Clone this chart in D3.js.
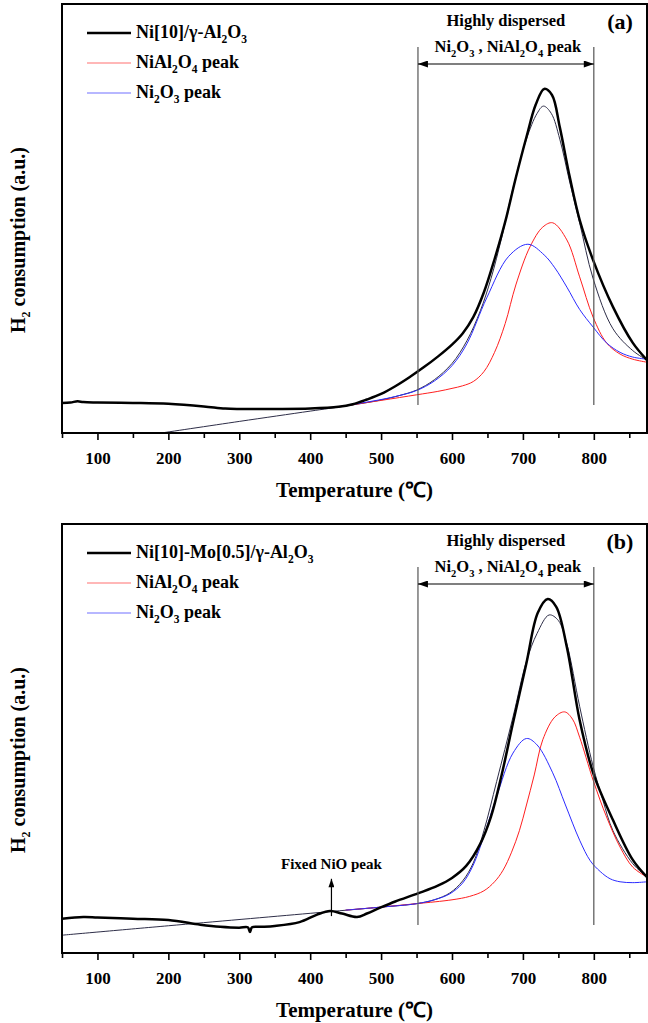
<!DOCTYPE html>
<html>
<head>
<meta charset="utf-8">
<script src="https://cdn.jsdelivr.net/npm/d3@7"></script>
<style>
  body { margin: 0; background: #fff; }
  svg text { font-family: "Liberation Serif", "Times New Roman", serif; font-weight: bold; fill: #000; }
</style>
</head>
<body>
<div id="chart"></div>
<script>
// [temperature °C, H2 consumption a.u.]
const expA = [[50,7.0],[62,7.1],[72,7.4],[80,7.2],[100,7.1],[150,7.0],[200,6.8],[250,6.2],[280,5.7],[300,5.6],[350,5.6],[400,5.7],[440,6.1],[460,6.7],[480,7.8],[500,9.1],[520,10.9],[540,13.0],[560,15.3],[580,17.8],[600,20.6],[615,23.2],[630,27.0],[645,32.8],[660,40.5],[675,49.2],[690,59.5],[705,69.0],[718,76.5],[730,80.2],[741,78.8],[752,71.3],[766,59.7],[780,49.7],[799,40.3],[827,29.4],[855,21.0],[875,17.0]];
const fitA = [[190,0],[300,2.7],[400,5.1],[450,6.3],[500,7.7],[525,8.7],[550,10.0],[575,12.4],[600,16.2],[621,21.5],[640,28.5],[655,36],[670,45.5],[686,57],[705,68.5],[720,74.5],[729,76.2],[740,74.5],[752,68.5],[766,58.5],[780,49],[799,36],[827,24.3],[855,19.2],[875,17.0]];
const redA = [[440,6.1],[500,7.6],[550,8.9],[580,9.7],[600,10.4],[615,11.0],[630,12.0],[645,14.3],[660,18.8],[675,25.5],[690,34.5],[710,43.4],[728,48.0],[742,49.0],[762,45.0],[780,36.4],[799,27.0],[818,21.0],[837,18.4],[855,17.2],[875,16.5]];
const blueA = [[440,6.1],[500,7.8],[525,8.7],[550,9.9],[575,12.1],[600,15.7],[621,20.8],[649,31.5],[680,41.2],[707,44.0],[730,41.5],[745,38.5],[762,34.0],[780,28.8],[799,24.7],[818,21.0],[837,18.8],[855,17.7],[875,17.2]];

const expB = [[50,8.0],[80,8.4],[100,8.3],[150,8.0],[200,7.7],[245,6.6],[273,6.1],[300,5.9],[312,6.0],[315,4.9],[318,6.0],[330,6.1],[350,6.3],[385,7.2],[409,8.9],[428,9.8],[445,9.2],[466,8.4],[480,9.2],[498,10.5],[520,12.0],[552,13.9],[580,15.7],[600,17.5],[620,20.3],[640,25.5],[655,31.8],[670,41.5],[686,53.6],[705,67.6],[721,79.3],[735,82.5],[747,80.7],[762,71.3],[780,54.3],[799,42.0],[827,31.0],[855,21.7],[875,17.7]];
const fitB = [[50,4.15],[200,6.35],[400,9.25],[500,10.7],[550,11.5],[575,12.4],[597,14.0],[615,16.8],[630,21.0],[645,28.5],[663,40],[686,55],[705,68],[720,74.5],[737,78.8],[750,77.5],[762,72],[780,57.5],[799,43.5],[813,35.5],[827,28.5],[855,20.8],[875,17.7]];
const redB = [[450,10.0],[500,10.7],[550,11.5],[600,12.4],[625,13.2],[645,14.5],[660,16.6],[672,19.3],[684,23.5],[695,28.5],[705,34.5],[716,41.5],[728,49.7],[745,55],[759,56.2],[770,54.5],[780,50.3],[799,40.3],[818,31.7],[837,24.7],[855,20],[875,17.7]];
const blueB = [[450,10.0],[500,10.7],[550,11.5],[575,12.4],[597,13.8],[615,16.3],[630,20.5],[645,27.3],[663,36.5],[686,46.6],[705,50.0],[720,48.5],[742,42.0],[760,34.5],[780,26.3],[795,21.5],[809,19.0],[823,17.3],[837,16.6],[855,16.4],[875,16.6]];

const majorTicks = [100, 200, 300, 400, 500, 600, 700, 800];
const minorTicks = [50, 150, 250, 350, 450, 550, 650, 750, 850];
const bracketRange = [552, 800];
const fixedNiO = 430;

// text pieces: [text, subscript?]
const nameA = [["Ni[10]/γ-Al", 0], ["2", 1], ["O", 0], ["3", 1]];
const nameB = [["Ni[10]-Mo[0.5]/γ-Al", 0], ["2", 1], ["O", 0], ["3", 1]];
const nameRed = [["NiAl", 0], ["2", 1], ["O", 0], ["4", 1], [" peak", 0]];
const nameBlue = [["Ni", 0], ["2", 1], ["O", 0], ["3", 1], [" peak", 0]];
const bracketText = [["Ni", 0], ["2", 1], ["O", 0], ["3", 1], [" , NiAl", 0], ["2", 1], ["O", 0], ["4", 1], [" peak", 0]];
const yTitle = [["H", 0], ["2", 1], [" consumption (a.u.)", 0]];

const width = 648, height = 1023;
const plotH = 429;

const svg = d3.select("#chart").append("svg")
  .attr("width", width)
  .attr("height", height);

const defs = svg.append("defs");
defs.append("marker")
  .attr("id", "arr")
  .attr("viewBox", "0 0 10 7")
  .attr("refX", 10).attr("refY", 3.5)
  .attr("markerWidth", 11).attr("markerHeight", 7)
  .attr("markerUnits", "userSpaceOnUse")
  .attr("orient", "auto-start-reverse")
  .append("path").attr("d", "M0,0L10,3.5L0,7Z").attr("fill", "#000");
defs.append("marker")
  .attr("id", "arrUp")
  .attr("viewBox", "0 0 10 7")
  .attr("refX", 10).attr("refY", 3.5)
  .attr("markerWidth", 9).attr("markerHeight", 6)
  .attr("markerUnits", "userSpaceOnUse")
  .attr("orient", "auto")
  .append("path").attr("d", "M0,0L10,3.5L0,7Z").attr("fill", "#000");

const x = d3.scaleLinear().domain([50, 875]).range([62, 647]);

function rich(sel, parts, subSize) {
  let shifted = false;
  parts.forEach(([t, sub]) => {
    const ts = sel.append("tspan").text(t);
    if (sub) {
      ts.attr("font-size", subSize).attr("dy", shifted ? 0 : 5);
      shifted = true;
    } else if (shifted) {
      ts.attr("dy", -5);
      shifted = false;
    }
  });
  return sel;
}

const panels = [
  { id: "a", top: 4, exp: expA, fit: fitA, red: redA, blue: blueA, name: nameA, tag: "(a)" },
  { id: "b", top: 524, exp: expB, fit: fitB, red: redB, blue: blueB, name: nameB, tag: "(b)" }
];

panels.forEach((p) => {
  const bottom = p.top + plotH;
  const y = d3.scaleLinear().domain([0, 100]).range([bottom, p.top]);
  const g = svg.append("g").attr("id", "panel-" + p.id);

  defs.append("clipPath").attr("id", "clip-" + p.id)
    .append("rect")
    .attr("x", x.range()[0]).attr("y", p.top)
    .attr("width", x.range()[1] - x.range()[0]).attr("height", plotH);

  const line = d3.line()
    .x((d) => x(d[0]))
    .y((d) => y(d[1]))
    .curve(d3.curveCatmullRom.alpha(0.5));

  const curves = g.append("g").attr("clip-path", `url(#clip-${p.id})`);

  // bracket for the highly dispersed region
  bracketRange.forEach((t) => {
    g.append("line")
      .attr("x1", x(t)).attr("x2", x(t))
      .attr("y1", p.top + 43).attr("y2", y(6.5))
      .attr("stroke", "#555").attr("stroke-width", 1.2);
  });
  g.append("line")
    .attr("x1", x(bracketRange[0])).attr("x2", x(bracketRange[1]))
    .attr("y1", p.top + 60).attr("y2", p.top + 60)
    .attr("stroke", "#000").attr("stroke-width", 1.2)
    .attr("marker-start", "url(#arr)")
    .attr("marker-end", "url(#arr)");
  const midX = (x(bracketRange[0]) + x(bracketRange[1])) / 2;
  g.append("text")
    .attr("x", midX).attr("y", p.top + 22)
    .attr("text-anchor", "middle").attr("font-size", 16.5)
    .text("Highly dispersed");
  rich(g.append("text")
    .attr("x", midX + 2).attr("y", p.top + 48)
    .attr("text-anchor", "middle").attr("font-size", 16.5), bracketText, 10.5);

  curves.append("path").datum(p.fit)
    .attr("d", line).attr("fill", "none")
    .attr("stroke", "#2e2e48").attr("stroke-width", 1);
  curves.append("path").datum(p.red)
    .attr("d", line).attr("fill", "none")
    .attr("stroke", "#ff1f1f").attr("stroke-width", 1);
  curves.append("path").datum(p.blue)
    .attr("d", line).attr("fill", "none")
    .attr("stroke", "#2b2bff").attr("stroke-width", 1);
  curves.append("path").datum(p.exp)
    .attr("d", line).attr("fill", "none")
    .attr("stroke", "#000").attr("stroke-width", 2.5)
    .attr("stroke-linejoin", "round");

  // frame
  g.append("rect")
    .attr("x", x.range()[0]).attr("y", p.top)
    .attr("width", x.range()[1] - x.range()[0]).attr("height", plotH)
    .attr("fill", "none").attr("stroke", "#000").attr("stroke-width", 2);

  // x axis
  const minorAxis = d3.axisBottom(x).tickValues(minorTicks).tickSize(5).tickFormat("");
  const majorAxis = d3.axisBottom(x).tickValues(majorTicks).tickSize(7).tickPadding(12).tickFormat(d3.format("d"));
  [minorAxis, majorAxis].forEach((ax) => {
    const a = g.append("g")
      .attr("transform", `translate(0,${bottom})`)
      .call(ax)
      .attr("font-family", null).attr("font-size", 17);
    a.select(".domain").remove();
    a.selectAll(".tick line").attr("stroke", "#000").attr("stroke-width", 1.6);
  });

  g.append("text")
    .attr("x", (x.range()[0] + x.range()[1]) / 2).attr("y", bottom + 64)
    .attr("text-anchor", "middle").attr("font-size", 21)
    .text("Temperature (℃)");

  rich(g.append("text")
    .attr("transform", `translate(25,${p.top + 236}) rotate(-90)`)
    .attr("text-anchor", "middle").attr("font-size", 20), yTitle, 12);

  g.append("text")
    .attr("x", 620).attr("y", p.top + 25)
    .attr("text-anchor", "middle").attr("font-size", 22)
    .text(p.tag);

  // legend
  const legend = g.append("g").attr("transform", `translate(87,${p.top + 29})`);
  const rows = [
    { parts: p.name, color: "#000", w: 2.5 },
    { parts: nameRed, color: "#ff7070", w: 1.2 },
    { parts: nameBlue, color: "#7070ff", w: 1.2 }
  ];
  rows.forEach((r, i) => {
    const ry = i * 30;
    legend.append("line")
      .attr("x1", 0).attr("x2", 44).attr("y1", ry).attr("y2", ry)
      .attr("stroke", r.color).attr("stroke-width", r.w);
    rich(legend.append("text")
      .attr("x", 49).attr("y", ry + 5)
      .attr("font-size", 18), r.parts, 11.5);
  });

  if (p.id === "b") {
    g.append("line")
      .attr("x1", x(fixedNiO)).attr("x2", x(fixedNiO))
      .attr("y1", y(8.6)).attr("y2", y(17.3))
      .attr("stroke", "#000").attr("stroke-width", 1.2)
      .attr("marker-end", "url(#arrUp)");
    g.append("text")
      .attr("x", x(fixedNiO)).attr("y", y(19.5))
      .attr("text-anchor", "middle").attr("font-size", 15)
      .text("Fixed NiO peak");
  }
});
</script>
</body>
</html>
